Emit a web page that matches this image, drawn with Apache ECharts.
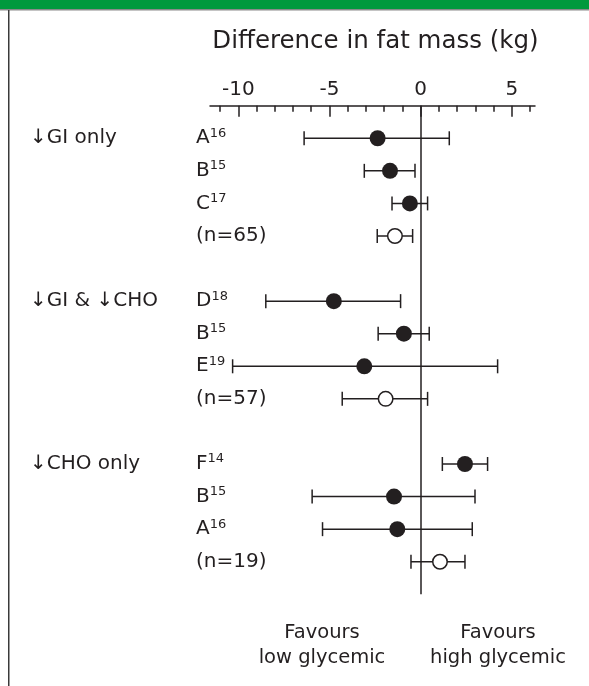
<!DOCTYPE html>
<html>
<head>
<meta charset="utf-8">
<script src="https://cdn.jsdelivr.net/npm/echarts@6.0.0/dist/echarts.min.js"></script>
<style>
html, body { margin: 0; padding: 0; background: #fff; }
#chart { width: 589px; height: 686px; }
</style>
</head>
<body>
<div id="chart"></div>
<script>
// forest plot data (one entry per row, empty rows separate the groups)
var groups = ['↓GI only', '↓GI & ↓CHO', '↓CHO only'];
var groupRows = [0, 5, 10];
var studies = ['A', 'B', 'C', '(n=65)', '', 'D', 'B', 'E', '(n=57)', '', 'F', 'B', 'A', '(n=19)'];
var refs = ['16', '15', '17', '', '', '18', '15', '19', '', '', '14', '15', '16', ''];
var pooled = [false, false, false, true, false, false, false, false, true, false, false, false, false, true];
var est = [-2.36, -1.68, -0.59, -1.41, null, -4.76, -0.92, -3.09, -1.92, null, 2.43, -1.46, -1.28, 1.06];
var lower = [-6.39, -3.09, -1.57, -2.38, null, -8.49, -2.33, -10.31, -4.30, null, 1.19, -5.95, -5.38, -0.53];
var upper = [1.57, -0.31, 0.38, -0.44, null, -1.10, 0.47, 4.22, 0.38, null, 3.67, 2.98, 2.83, 2.43];

// tick labels of the difference axis
var majorTicks = [-10, -5, 0, 5];
var minorTicks = [-11, -9, -8, -7, -6, -4, -3, -2, -1, 1, 2, 3, 4, 6];

var ink = '#231f20';
var font = 'DejaVu Sans';

// build series data
var barData = [];
var studyPoints = [];
var pooledPoints = [];
for (var i = 0; i < studies.length; i++) {
    if (est[i] === null) continue;
    barData.push([lower[i], upper[i], i]);
    if (pooled[i]) pooledPoints.push([est[i], i]);
    else studyPoints.push([est[i], i]);
}

function renderErrorBar(params, api) {
    var y = api.value(2);
    var p1 = api.coord([api.value(0), y]);
    var p2 = api.coord([api.value(1), y]);
    var h = 7;
    var style = { stroke: ink, lineWidth: 1.5 };
    return {
        type: 'group',
        children: [
            { type: 'line', shape: { x1: p1[0], y1: p1[1], x2: p2[0], y2: p2[1] }, style: style },
            { type: 'line', shape: { x1: p1[0], y1: p1[1] - h, x2: p1[0], y2: p1[1] + h }, style: style },
            { type: 'line', shape: { x1: p2[0], y1: p2[1] - h, x2: p2[0], y2: p2[1] + h }, style: style }
        ]
    };
}

var chart = echarts.init(document.getElementById('chart'));

var option = {
    backgroundColor: '#fff',
    animation: false,
    textStyle: { fontFamily: font, color: ink },
    grid: { left: 210, right: 54, top: 105.7, bottom: 91.7, containLabel: false },
    xAxis: [{
        type: 'value',
        position: 'top',
        min: -11.55,
        max: 6.27,
        name: 'Difference in fat mass (kg)',
        nameLocation: 'middle',
        nameGap: 52,
        nameTextStyle: { fontSize: 24.5, color: ink, fontFamily: font, padding: [0, 0, 0, 6] },
        axisLine: { show: true, onZero: false, lineStyle: { color: ink, width: 1.5 } },
        axisTick: { show: true, inside: true, length: 11, customValues: majorTicks, lineStyle: { color: ink, width: 1.5 } },
        axisLabel: { show: true, customValues: majorTicks, margin: 6, fontSize: 20, color: ink, fontFamily: font },
        splitLine: { show: false }
    }, {
        type: 'value',
        position: 'top',
        min: -11.55,
        max: 6.27,
        axisLine: { show: false, onZero: false },
        axisTick: { show: true, inside: true, length: 6, customValues: minorTicks, lineStyle: { color: ink, width: 1.5 } },
        axisLabel: { show: false },
        splitLine: { show: false }
    }],
    yAxis: [{
        type: 'value',
        inverse: true,
        min: -1,
        max: 14,
        interval: 1,
        axisLine: { show: false, onZero: false },
        axisTick: { show: false },
        splitLine: { show: false },
        axisLabel: {
            align: 'left',
            margin: 14,
            formatter: function (v) {
                var s = studies[v];
                if (!s) return '';
                return refs[v] ? '{b|' + s + '}{s|' + refs[v] + '}' : '{b|' + s + '}';
            },
            rich: {
                b: { fontSize: 20, color: ink, fontFamily: font },
                s: { fontSize: 13, color: ink, fontFamily: font, verticalAlign: 'bottom', padding: [0, 0, 10, 0] }
            }
        }
    }, {
        type: 'value',
        inverse: true,
        min: -1,
        max: 14,
        interval: 1,
        position: 'left',
        axisLine: { show: false, onZero: false },
        axisTick: { show: false },
        splitLine: { show: false },
        axisLabel: {
            align: 'left',
            margin: 180,
            fontSize: 20,
            color: ink,
            fontFamily: font,
            formatter: function (v) {
                var k = groupRows.indexOf(v);
                return k >= 0 ? groups[k] : '';
            }
        }
    }],
    series: [{
        type: 'custom',
        renderItem: renderErrorBar,
        encode: { x: [0, 1], y: 2 },
        data: barData,
        z: 2,
        markLine: {
            silent: true,
            symbol: 'none',
            label: { show: false },
            lineStyle: { color: ink, width: 1.5, type: 'solid' },
            data: [{ xAxis: 0 }]
        }
    }, {
        type: 'scatter',
        data: studyPoints,
        symbol: 'circle',
        symbolSize: 16,
        itemStyle: { color: ink, opacity: 1 },
        z: 3
    }, {
        type: 'scatter',
        data: pooledPoints,
        symbol: 'circle',
        symbolSize: 14.5,
        itemStyle: { color: '#fff', borderColor: ink, borderWidth: 1.5, opacity: 1 },
        z: 3
    }],
    graphic: [
        { type: 'rect', left: 0, top: 0, shape: { width: 589, height: 9 }, style: { fill: '#00993d' } },
        { type: 'rect', left: 0, top: 9, shape: { width: 589, height: 1.5 }, style: { fill: '#8a8a8a' } },
        { type: 'rect', left: 8, top: 10, shape: { width: 1.5, height: 676 }, style: { fill: '#3a3a3a' } },
        {
            type: 'text', x: 322, y: 645,
            style: { text: 'Favours\nlow glycemic', fill: ink, font: '19.5px "DejaVu Sans"', align: 'center', verticalAlign: 'middle', lineHeight: 25 }
        },
        {
            type: 'text', x: 498, y: 645,
            style: { text: 'Favours\nhigh glycemic', fill: ink, font: '19.5px "DejaVu Sans"', align: 'center', verticalAlign: 'middle', lineHeight: 25 }
        }
    ]
};

chart.setOption(option);
</script>
</body>
</html>
